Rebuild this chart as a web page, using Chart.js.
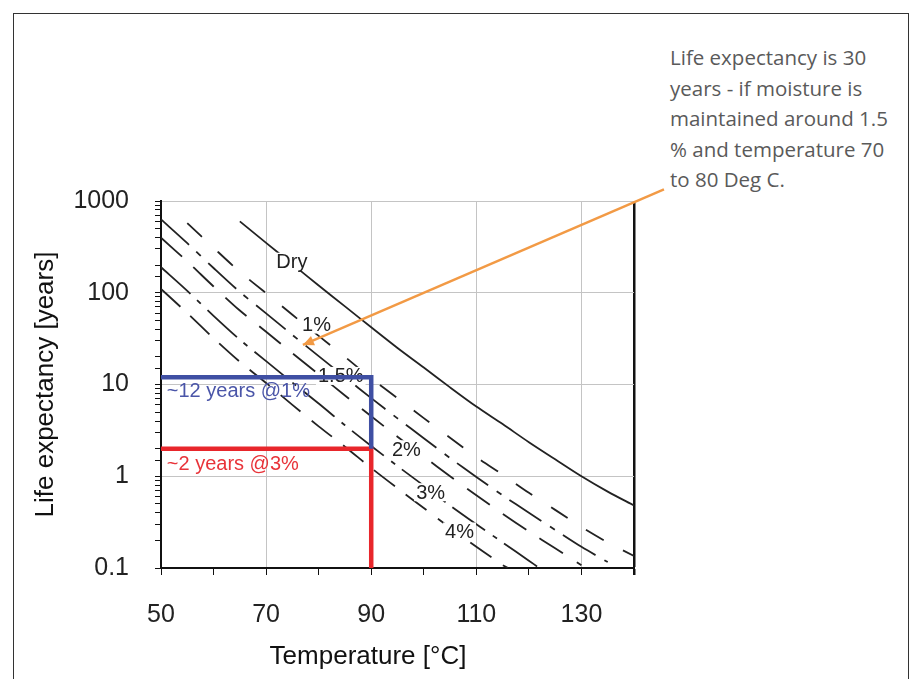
<!DOCTYPE html>
<html>
<head>
<meta charset="utf-8">
<script src="https://cdn.jsdelivr.net/npm/chart.js@4.4.1/dist/chart.umd.min.js"></script>
<style>
  html, body { margin: 0; padding: 0; background: #fff; overflow: hidden; }
  #wrap { position: relative; width: 914px; height: 679px; }
  #frame { position: absolute; left: 13px; top: 13px; width: 896px; height: 700px; border: 1px solid #333; box-sizing: border-box; }
  #note { position: absolute; left: 670px; top: 42px; font-family: "Open Sans", sans-serif; font-size: 20.5px; line-height: 30.5px; color: #5a5a5a; }
  canvas { position: absolute; left: 0; top: 0; }
</style>
</head>
<body>
<div id="wrap">
  <div id="frame"></div>
  <div id="note">Life expectancy is 30<br>years - if moisture is<br>maintained around 1.5<br>% and temperature 70<br>to 80 Deg C.</div>
  <canvas id="chart" width="914" height="679"></canvas>
</div>
<script>
// curves (temperature in deg C, life in years)
const tempDry = [65, 70, 75, 80, 85, 90, 95, 100, 105, 110, 115, 120, 125, 130, 135, 140];
const lifeDry = [600, 350, 205, 120, 71, 42, 25, 15.3, 9.3, 5.75, 3.7, 2.35, 1.53, 1.0, 0.68, 0.48];

const temp1 = [55, 60, 65, 70, 75, 80, 85, 90, 95, 100, 105, 110, 115, 120, 125, 130, 135, 140];
const life1 = [575, 309, 169, 99, 57.5, 33.9, 20, 11.7, 7.1, 4.3, 2.63, 1.62, 1.04, 0.66, 0.43, 0.28, 0.19, 0.135];

const temp15 = [50, 55, 60, 65, 70, 75, 80, 85, 90, 95, 100, 105, 110, 115, 120, 125, 130, 135];
const life15 = [630, 347, 186, 102, 59.6, 34.7, 20.4, 12.0, 7.1, 4.27, 2.6, 1.58, 0.98, 0.62, 0.40, 0.26, 0.17, 0.116];

const temp2 = [50, 55, 60, 65, 70, 75, 80, 85, 90, 95, 100, 105, 110, 115, 120, 125, 130];
const life2 = [398, 219, 117, 64, 37.6, 21.9, 12.9, 7.6, 4.5, 2.7, 1.64, 1.0, 0.62, 0.39, 0.25, 0.164, 0.107];

const temp3 = [50, 55, 60, 65, 70, 75, 80, 85, 90, 95, 100, 105, 110, 115, 120, 122];
const life3 = [190, 105, 56, 30.8, 18, 10.5, 6.2, 3.6, 2.14, 1.29, 0.79, 0.48, 0.30, 0.19, 0.12, 0.1];

const temp4 = [50, 55, 60, 65, 70, 75, 80, 85, 90, 95, 100, 105, 110, 115, 116];
const life4 = [110, 60, 32, 17.7, 10.4, 6.0, 3.5, 2.1, 1.23, 0.74, 0.45, 0.275, 0.17, 0.108, 0.1];

// highlighted readings at 90 deg C
const markTemp = [50, 90, 90];
const blueLife = [12, 12, 2];
const redLife = [2, 2, 0.1];

// pointer from the note to the 1.5% curve
const arrowTemp = [145.7, 77];
const arrowLife = [1340, 27];

const xTicksShown = [50, 70, 90, 110, 130];

// curve labels, anchored in data units
const curveLabels = [
  { text: 'Dry', t: 74.9, v: 218 },
  { text: '1%', t: 79.6, v: 45 },
  { text: '1.5%', t: 84.2, v: 12.4 },
  { text: '2%', t: 96.7, v: 1.97 },
  { text: '3%', t: 101.3, v: 0.67 },
  { text: '4%', t: 106.8, v: 0.25 }
];
const noteLabels = [
  { text: '~12 years @1%', t: 51.1, v: 8.3, color: '#4a55a8' },
  { text: '~2 years @3%', t: 51.1, v: 1.35, color: '#e8343a' }
];

const FONT = '"Liberation Sans", Arial, sans-serif';

function pts(xs, ys) {
  return xs.map((x, i) => ({ x: x, y: ys[i] }));
}
function isPow10(v) {
  const l = Math.log10(v);
  return Math.abs(l - Math.round(l)) < 1e-6;
}

function curve(data, dash) {
  return {
    data: data,
    borderColor: '#222',
    borderWidth: 1.8,
    borderDash: dash,
    pointRadius: 0,
    tension: 0.3,
    fill: false
  };
}

const labelPlugin = {
  id: 'labels',
  afterDatasetDraw(chart, args) {
    if (args.index !== 3) return;
    const ctx = chart.ctx, x = chart.scales.x, y = chart.scales.y;
    ctx.save();
    ctx.font = '20px ' + FONT;
    ctx.textAlign = 'center';
    ctx.textBaseline = 'middle';
    curveLabels.forEach(l => {
      const px = x.getPixelForValue(l.t), py = y.getPixelForValue(l.v);
      const w = ctx.measureText(l.text).width;
      ctx.fillStyle = '#fff';
      ctx.fillRect(px - w / 2 - 2, py - 9, w + 4, 18);
      ctx.fillStyle = '#222';
      ctx.fillText(l.text, px, py + 1);
    });
    ctx.restore();
  },
  afterDraw(chart) {
    const ctx = chart.ctx, x = chart.scales.x, y = chart.scales.y;
    ctx.save();
    // arrow head
    const x0 = x.getPixelForValue(arrowTemp[0]), y0 = y.getPixelForValue(arrowLife[0]);
    const x1 = x.getPixelForValue(arrowTemp[1]), y1 = y.getPixelForValue(arrowLife[1]);
    const a = Math.atan2(y1 - y0, x1 - x0);
    ctx.fillStyle = '#f29a45';
    ctx.beginPath();
    ctx.moveTo(x1, y1);
    ctx.lineTo(x1 - 11 * Math.cos(a) + 5 * Math.sin(a), y1 - 11 * Math.sin(a) - 5 * Math.cos(a));
    ctx.lineTo(x1 - 11 * Math.cos(a) - 5 * Math.sin(a), y1 - 11 * Math.sin(a) + 5 * Math.cos(a));
    ctx.closePath();
    ctx.fill();
    // reading notes
    ctx.font = '20px ' + FONT;
    ctx.textAlign = 'left';
    ctx.textBaseline = 'middle';
    noteLabels.forEach(l => {
      ctx.fillStyle = l.color;
      ctx.fillText(l.text, x.getPixelForValue(l.t), y.getPixelForValue(l.v));
    });
    // x axis title
    ctx.font = '26px ' + FONT;
    ctx.fillStyle = '#111';
    ctx.textAlign = 'center';
    ctx.fillText('Temperature [\u00B0C]', 368, 657);
    ctx.restore();
  }
};

new Chart(document.getElementById('chart'), {
  type: 'line',
  data: {
    datasets: [
      { data: pts(arrowTemp, arrowLife), borderColor: '#f29a45', borderWidth: 2.5, pointRadius: 0, clip: false },
      { data: pts(markTemp, blueLife), borderColor: '#3f4fa3', borderWidth: 4.5, pointRadius: 0, borderJoinStyle: 'miter' },
      { data: pts(markTemp, redLife), borderColor: '#e8262b', borderWidth: 4.5, pointRadius: 0, borderJoinStyle: 'miter' },
      curve(pts(temp1, life1), [20, 22]),
      curve(pts(temp15, life15), [38, 10, 6, 10]),
      curve(pts(temp2, life2), [28, 16]),
      curve(pts(temp3, life3), [40, 9, 5, 9]),
      curve(pts(temp4, life4), [26, 14]),
      curve(pts(tempDry, lifeDry), [])
    ]
  },
  options: {
    responsive: false,
    animation: false,
    layout: { padding: { left: 26, top: 201, right: 280, bottom: 0 } },
    plugins: { legend: { display: false }, tooltip: { enabled: false } },
    scales: {
      x: {
        type: 'linear',
        min: 50,
        max: 140,
        afterFit(scale) { scale.height = 111; },
        ticks: {
          stepSize: 10,
          autoSkip: false,
          maxRotation: 0,
          padding: 25,
          color: '#222',
          font: { family: FONT, size: 25 },
          callback: v => xTicksShown.includes(v) ? String(v) : ''
        },
        grid: {
          color: c => c.tick && c.tick.value === 140 ? '#111' : (c.tick && [70, 90, 110, 130].includes(c.tick.value) ? '#c4c4c4' : 'rgba(0,0,0,0)'),
          lineWidth: c => c.tick && c.tick.value === 140 ? 2.5 : 1,
          tickColor: '#111',
          tickLength: 7
        },
        border: { color: '#111', width: 2 }
      },
      y: {
        type: 'logarithmic',
        min: 0.1,
        max: 1000,
        afterFit(scale) { scale.width = 135; },
        ticks: {
          autoSkip: false,
          padding: 26,
          color: '#222',
          font: { family: FONT, size: 25 },
          callback: v => isPow10(v) ? String(Number(v.toPrecision(3))) : ''
        },
        grid: {
          color: c => c.tick && isPow10(c.tick.value) ? '#c4c4c4' : 'rgba(0,0,0,0)',
          tickColor: '#111',
          tickLength: 6
        },
        border: { color: '#111', width: 2 },
        title: {
          display: true,
          text: 'Life expectancy [years]',
          color: '#111',
          font: { family: FONT, size: 26 },
          padding: { top: 4, bottom: 4 }
        }
      }
    }
  },
  plugins: [labelPlugin]
});
</script>
</body>
</html>
